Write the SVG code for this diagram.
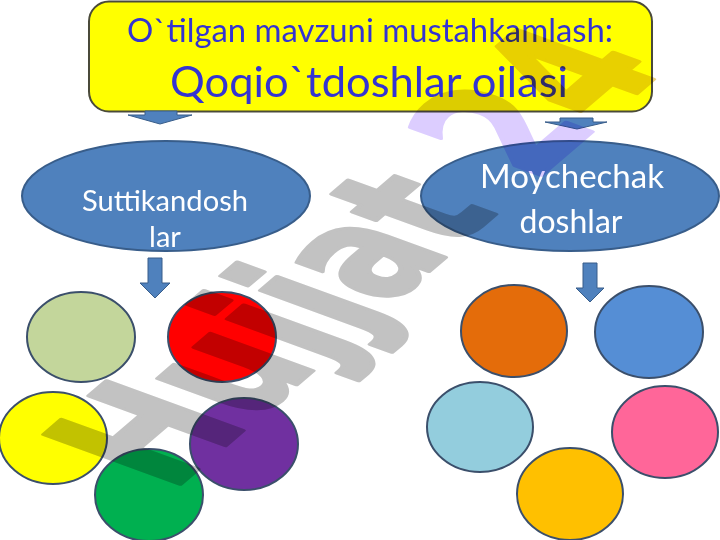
<svg xmlns="http://www.w3.org/2000/svg" width="720" height="540" viewBox="0 0 720 540">
<defs>
<style>
.title{font-family:Lato,"Open Sans","Liberation Sans",sans-serif;fill:#3434d2;text-anchor:middle}
.lbl{font-family:Lato,"Open Sans","Liberation Sans",sans-serif;fill:#ffffff;text-anchor:middle}
.oval{fill:#4f81bd;stroke:#385d8a;stroke-width:2}
.dot{stroke:#3b4f6b;stroke-width:2}
.arrow{fill:#4f81bd;stroke:#385d8a;stroke-width:1}
.wm{font-family:"DejaVu Sans",sans-serif;font-weight:bold;font-size:100px;mix-blend-mode:multiply;stroke-width:2.5;stroke-linejoin:round}
</style>
</defs>
<rect width="720" height="540" fill="#ffffff"/>

<g id="title">
<rect x="89" y="1.5" width="563" height="110" rx="20" ry="20" fill="#ffff00" stroke="#4a4a3a" stroke-width="2"/>
<text class="title" x="370" y="42" font-size="32" textLength="486" lengthAdjust="spacingAndGlyphs">O`tilgan mavzuni mustahkamlash:</text>
<text class="title" x="369" y="97" font-size="43" textLength="398" lengthAdjust="spacingAndGlyphs">Qoqio`tdoshlar oilasi</text>
</g>

<g id="connectors">
<path class="arrow" d="M145,111 H177 V115 H192 L160,124 L128,115 H145 Z"/>
<path class="arrow" d="M560,118 H593 V122 H607 L577,129 L545,122 H560 Z"/>
<path class="arrow" d="M148,258 H162 V283 H170 L155,298 L140,283 H148 Z"/>
<path class="arrow" d="M583,263 H597 V288 H604 L590,302 L576,288 H583 Z"/>
</g>

<g id="suttikandoshlar">
<ellipse class="oval" cx="166" cy="196" rx="144" ry="55"/>
<text class="lbl" x="165" y="211" font-size="29" textLength="166" lengthAdjust="spacingAndGlyphs">Suttikandosh</text>
<text class="lbl" x="165" y="247" font-size="29">lar</text>
</g>

<g id="moychechakdoshlar">
<ellipse class="oval" cx="570" cy="196" rx="149" ry="55"/>
<text class="lbl" x="572" y="188" font-size="32" textLength="184" lengthAdjust="spacingAndGlyphs">Moychechak</text>
<text class="lbl" x="571" y="233" font-size="32">doshlar</text>
</g>

<g id="c-lightgreen"><ellipse class="dot" cx="81" cy="337" rx="54" ry="45" fill="#c3d69b"/></g>
<g id="c-red"><ellipse class="dot" cx="222" cy="337" rx="54" ry="45" fill="#ff0000"/></g>
<g id="c-yellow"><ellipse class="dot" cx="53" cy="438" rx="54" ry="46" fill="#ffff00"/></g>
<g id="c-purple"><ellipse class="dot" cx="244" cy="444" rx="54" ry="46" fill="#7030a0"/></g>
<g id="c-green"><ellipse class="dot" cx="149" cy="495" rx="54" ry="46" fill="#00b050"/></g>

<g id="c-orange"><ellipse class="dot" cx="514" cy="331" rx="53" ry="46" fill="#e46c0a"/></g>
<g id="c-blue"><ellipse class="dot" cx="649" cy="332" rx="54" ry="46" fill="#558ed5"/></g>
<g id="c-lightblue"><ellipse class="dot" cx="480" cy="427" rx="53" ry="45" fill="#93cddd"/></g>
<g id="c-pink"><ellipse class="dot" cx="665" cy="432" rx="53" ry="46" fill="#ff6699"/></g>
<g id="c-gold"><ellipse class="dot" cx="570" cy="494" rx="53" ry="46" fill="#ffc000"/></g>

<g id="watermark">
<text class="wm" transform="matrix(0.97,-0.83,1.87,0.68,171,492)" x="0" y="0"><tspan fill="#c2c2c2" stroke="#c2c2c2">Hujjat </tspan><tspan fill="#dccdff" stroke="#dccdff">2</tspan><tspan fill="#e8d080" stroke="#e8d080">4</tspan></text>
</g>
</svg>
